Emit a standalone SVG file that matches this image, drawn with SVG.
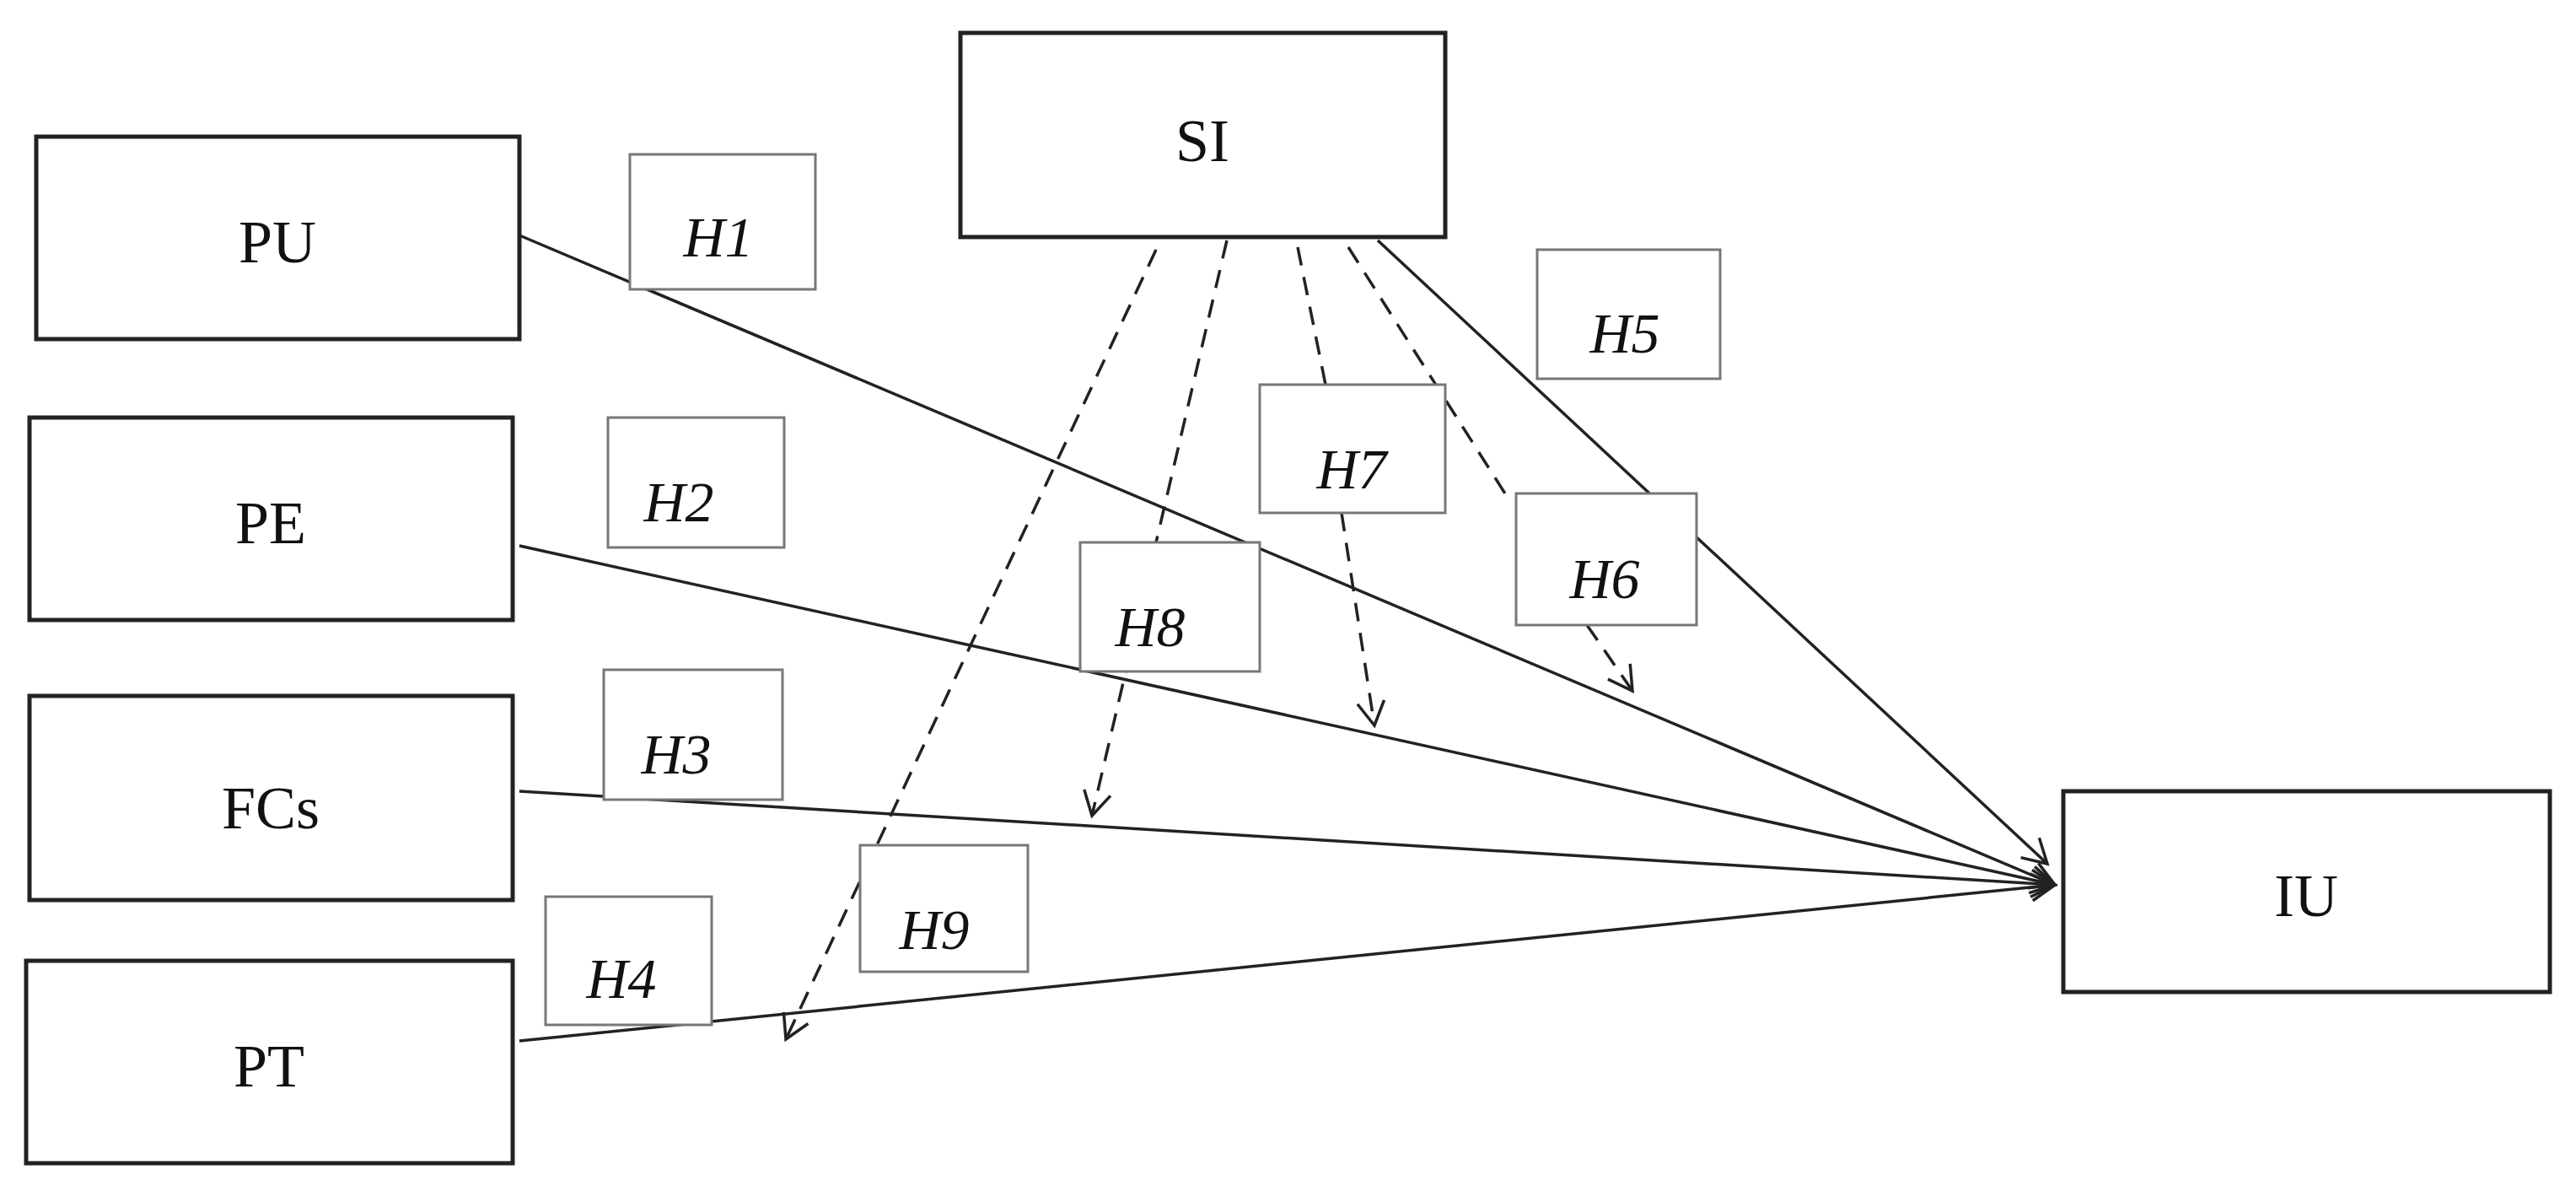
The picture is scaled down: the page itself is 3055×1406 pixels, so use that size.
<svg xmlns="http://www.w3.org/2000/svg" width="3055" height="1406" viewBox="0 0 3055 1406">
<style>
.n{fill:#fff;stroke:#222;stroke-width:5}
.h{fill:#fff;stroke:#777;stroke-width:3}
.t{font-family:"Liberation Serif",serif;font-size:72px;fill:#111;text-anchor:middle;dominant-baseline:central}
.ti{font-family:"Liberation Serif",serif;font-size:68px;font-style:italic;fill:#111;text-anchor:middle;dominant-baseline:central}
.c{fill:none;stroke:#222;stroke-width:3.5}
.d{fill:none;stroke:#222;stroke-width:3.5;stroke-dasharray:22 14}
</style>
<defs>
<marker id="a" markerWidth="40" markerHeight="40" refX="30" refY="20" orient="auto" markerUnits="userSpaceOnUse">
<path d="M2,4 L30,20 L2,36" fill="none" stroke="#222" stroke-width="3.5"/>
</marker>
</defs>
<rect width="3055" height="1406" fill="#fff"/>
<g id="connectors">
<line class="c" x1="616" y1="279" x2="2437" y2="1049" marker-end="url(#a)"/>
<line class="c" x1="616" y1="647" x2="2437" y2="1049" marker-end="url(#a)"/>
<line class="c" x1="616" y1="938" x2="2437" y2="1049" marker-end="url(#a)"/>
<line class="c" x1="616" y1="1234" x2="2437" y2="1049" marker-end="url(#a)"/>
<line class="c" x1="1634" y1="285" x2="2428" y2="1024" marker-end="url(#a)"/>
<line class="d" x1="1371" y1="296" x2="932" y2="1232" marker-end="url(#a)"/>
<line class="d" x1="1455" y1="285" x2="1295" y2="967" marker-end="url(#a)"/>
<line class="d" x1="1539" y1="293" x2="1572" y2="456"/>
<line class="d" x1="1591" y1="608" x2="1630" y2="860" marker-end="url(#a)"/>
<line class="d" x1="1599" y1="293" x2="1790" y2="593"/>
<line class="d" x1="1882" y1="741" x2="1936" y2="819" marker-end="url(#a)"/>
</g>
<g id="PU"><rect class="n" x="43" y="162" width="573" height="240"/><text class="t" x="329" y="287">PU</text></g>
<g id="PE"><rect class="n" x="35" y="495" width="573" height="240"/><text class="t" x="321" y="620">PE</text></g>
<g id="FCs"><rect class="n" x="35" y="825" width="573" height="242"/><text class="t" x="321" y="958">FCs</text></g>
<g id="PT"><rect class="n" x="31" y="1139" width="577" height="240"/><text class="t" x="319" y="1264">PT</text></g>
<g id="SI"><rect class="n" x="1139" y="39" width="575" height="242"/><text class="t" x="1426" y="167">SI</text></g>
<g id="IU"><rect class="n" x="2447" y="938" width="577" height="238"/><text class="t" x="2735" y="1062">IU</text></g>
<g id="H1"><rect class="h" x="747" y="183" width="220" height="160"/><text class="ti" x="852" y="281">H1</text></g>
<g id="H2"><rect class="h" x="721" y="495" width="209" height="154"/><text class="ti" x="805" y="595">H2</text></g>
<g id="H3"><rect class="h" x="716" y="794" width="212" height="154"/><text class="ti" x="802" y="894">H3</text></g>
<g id="H4"><rect class="h" x="647" y="1063" width="197" height="152"/><text class="ti" x="737" y="1160">H4</text></g>
<g id="H5"><rect class="h" x="1823" y="296" width="217" height="153"/><text class="ti" x="1927" y="395">H5</text></g>
<g id="H6"><rect class="h" x="1798" y="585" width="214" height="156"/><text class="ti" x="1903" y="686">H6</text></g>
<g id="H7"><rect class="h" x="1494" y="456" width="220" height="152"/><text class="ti" x="1603" y="556">H7</text></g>
<g id="H8"><rect class="h" x="1281" y="643" width="213" height="153"/><text class="ti" x="1364" y="743">H8</text></g>
<g id="H9"><rect class="h" x="1020" y="1002" width="199" height="150"/><text class="ti" x="1108" y="1102">H9</text></g>
</svg>
